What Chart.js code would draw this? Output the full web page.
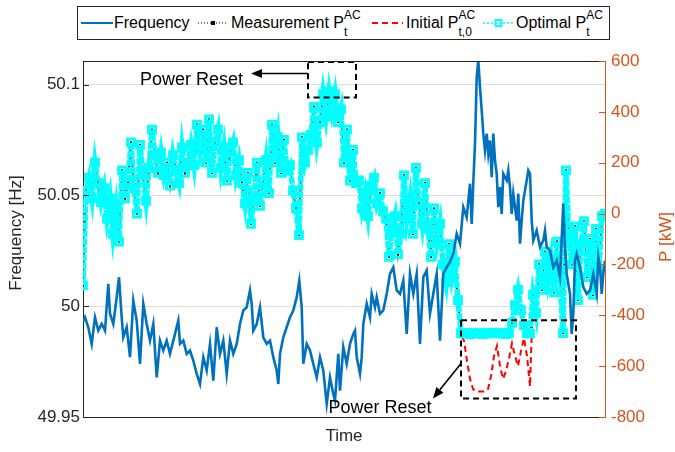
<!DOCTYPE html>
<html><head><meta charset="utf-8">
<script src="https://cdn.jsdelivr.net/npm/chart.js@4/dist/chart.umd.min.js"></script>
<style>
html,body{margin:0;padding:0;background:#fff;}
#wrap{position:relative;width:675px;height:452px;overflow:hidden;}
#c{position:absolute;left:0;top:0;}
#legend{position:absolute;left:77px;top:6px;width:533px;height:34px;border:1px solid #262626;box-sizing:border-box;background:#fff;font-family:"Liberation Sans",Arial,Helvetica,sans-serif;font-size:16px;color:#000;z-index:2;}
.smp{position:absolute;top:0;}
.lbl{position:absolute;top:7px;white-space:nowrap;line-height:18px;}
.ss{display:inline-block;position:relative;width:24px;height:18px;vertical-align:top;}
.ss .sup{position:absolute;left:0;top:-6px;font-size:12px;line-height:14px;}
.ss .sub{position:absolute;left:0;top:11px;font-size:12px;line-height:14px;}
</style></head>
<body>
<div id="wrap">
<canvas id="c" width="675" height="452"></canvas>
<div id="legend">
  <svg class="smp" style="left:3px" width="32" height="32"><line x1="0" y1="16" x2="32" y2="16" stroke="#0072BD" stroke-width="2"/></svg>
  <div class="lbl" style="left:36px">Frequency</div>
  <svg class="smp" style="left:120px" width="30" height="32"><line x1="0" y1="16" x2="30" y2="16" stroke="#000" stroke-width="1" stroke-dasharray="1,2"/><rect x="13" y="14" width="4" height="4" fill="#000"/></svg>
  <div class="lbl" style="left:153px">Measurement P<span class="ss"><span class="sup">AC</span><span class="sub">t</span></span></div>
  <svg class="smp" style="left:294px" width="31" height="32"><line x1="0" y1="16" x2="31" y2="16" stroke="#FF0000" stroke-width="2" stroke-dasharray="6,4"/></svg>
  <div class="lbl" style="left:328px">Initial P<span class="ss"><span class="sup">AC</span><span class="sub">t,0</span></span></div>
  <svg class="smp" style="left:405px" width="31" height="32"><line x1="0" y1="16" x2="31" y2="16" stroke="#00FFFF" stroke-width="1.5" stroke-dasharray="2,2"/><rect x="12.5" y="13" width="6" height="6" fill="none" stroke="#00FFFF" stroke-width="2"/></svg>
  <div class="lbl" style="left:438px">Optimal P<span class="ss"><span class="sup">AC</span><span class="sub">t</span></span></div>
</div>
</div>
<script>
// ---- data ----
const freqTime = [0,2,5.3,8.7,12,15.3,18.7,22,25.3,27,30.3,33.7,36,38.7,40.3,43.7,47,50.3,53.7,57,60.3,63.7,67,70.3,73.7,77,80.3,83.7,87,90.3,95.3,97,100.3,103.7,107,110.3,113.7,117,120.3,123.7,127,130.3,133.7,137,140.3,143.7,147,150.3,153.7,157,160.3,163.7,167,168.7,170.3,173.7,177,180.3,183.7,187,190.3,193.7,195.3,197,200.3,203.7,207,210.3,213.7,216.3,218.7,220.3,223.7,227,230.3,233.7,237,240.3,243.7,247,250.3,252,255.3,257,260.3,263.7,267,270.3,272,273.7,277,278.7,280.3,283.7,287,288.7,292,293.7,297,300.3,303.7,307,310.3,313.7,317,320.3,323.7,327,330.3,333.7,337,340.3,343.7,347,350.3,353.7,357,360.3,363.7,367,370.3,373.7,377,380.3,383.7,387,388.7,390.3,392,393.7,395.3,397,398.7,400.3,402,403.7,405.3,407,408.7,410.3,412,413.7,415.3,417,418.7,420.3,423.7,425.3,427,428.7,430.3,433.7,435.3,437,438.7,440.3,443.7,445.3,447,448.7,450.3,453.7,457,460.3,462,463.7,467,470.3,473.7,477,480.3,482,483.7,487,488.7,490.3,492,493.7,497,500.3,503.7,507,510.3,513.7,515.3,517,518.7,520.3,522];
const freqHz = [49.9931,49.9950,49.9905,49.9830,49.9950,49.9890,49.9920,49.9890,50.0101,49.9966,
49.9920,50.0041,50.0131,49.9950,49.9860,49.9905,49.9770,50.0026,49.9935,49.9740,
50.0011,49.9920,49.9845,49.9920,49.9679,49.9845,49.9800,49.9845,49.9785,49.9845,
49.9935,49.9830,49.9845,49.9785,49.9800,49.9755,49.9695,49.9649,49.9770,49.9710,
49.9830,49.9664,49.9905,49.9785,49.9845,49.9695,49.9845,49.9785,49.9830,49.9920,
49.9981,49.9995,50.0071,50.0011,49.9890,49.9920,49.9995,49.9860,49.9830,49.9845,
49.9770,49.9710,49.9649,49.9785,49.9860,49.9905,49.9950,49.9981,50.0041,50.0116,
49.9995,49.9740,49.9830,49.9800,49.9740,49.9679,49.9770,49.9710,49.9559,49.9679,
49.9604,49.9574,49.9785,49.9619,49.9815,49.9740,49.9830,49.9875,49.9890,49.9770,
49.9695,49.9770,49.9920,50.0011,49.9950,50.0056,49.9995,50.0041,49.9966,49.9981,
50.0056,50.0146,50.0176,50.0071,50.0056,50.0116,49.9875,50.0146,50.0056,50.0146,
49.9830,50.0131,50.0161,49.9966,50.0056,50.0146,49.9845,50.0146,50.0176,50.0200,
50.0237,50.0327,50.0282,50.0447,50.0402,50.0553,50.0372,50.0560,50.0734,50.1034,
50.1110,50.0989,50.0884,50.0779,50.0703,50.0779,50.0688,50.0748,50.0583,50.0779,
50.0658,50.0598,50.0447,50.0538,50.0417,50.0598,50.0568,50.0613,50.0538,50.0417,
50.0508,50.0387,50.0508,50.0282,50.0387,50.0477,50.0568,50.0613,50.0598,50.0387,
50.0297,50.0342,50.0267,50.0297,50.0342,50.0267,50.0252,50.0176,50.0206,50.0131,
50.0463,50.0267,50.0146,50.0056,49.9875,49.9966,50.0206,50.0237,50.0176,50.0086,
50.0056,50.0071,50.0146,50.0056,50.0221,50.0176,50.0056,50.0146,50.0206];

const powerStep = 3; // time units between power samples
const optimalKW = [-282,90,140,60,200,120,45,100,-20,60,
-80,20,-110,170,60,120,280,100,0,270,
150,50,180,330,230,160,240,150,200,110,
230,170,120,260,160,200,270,190,350,250,
330,200,370,160,280,330,180,260,130,240,
280,150,210,120,40,160,-40,70,200,30,
120,210,80,350,200,300,160,290,170,190,
90,20,-85,300,200,250,310,420,280,360,
470,380,480,400,470,360,410,200,330,130,
250,120,130,20,80,-10,110,140,40,80,
10,-20,-170,-60,-10,-160,-80,150,-20,60,
-80,180,40,-40,120,-60,-170,20,-110,-40,
-200,-270,-120,-250,-190,-340,-470,-472,-470,-474,
-470,-472,-470,-474,-470,-472,-470,-468,-470,-472,
-470,-474,-470,-430,-360,-300,-380,-440,-470,-472,
-320,-390,-200,-300,-150,-260,-180,-310,-110,-250,
-470,170,-100,-200,-50,-340,-120,-30,-250,-100,
-320,-60,-220,-10,0];
const measuredKW = [-282,90,140,60,200,120,45,100,-20,60,
-80,20,-110,170,60,120,280,100,0,270,
150,50,180,330,230,160,240,150,200,110,
230,170,120,260,160,200,270,190,350,250,
330,200,370,160,280,330,180,260,130,240,
280,150,210,120,40,160,-40,70,200,30,
120,210,80,350,200,300,160,290,170,190,
90,20,-85,300,200,250,310,420,280,360,
470,380,480,400,470,360,410,200,330,130,
250,120,130,20,80,-10,110,140,40,80,
10,-20,-170,-60,-10,-160,-80,150,-20,60,
-80,180,40,-40,120,-60,-170,20,-110,-40,
-200,-270,-120,-250,-190,-340,-470,-472,-470,-474,
-470,-472,-470,-474,-470,-472,-470,-468,-470,-472,
-470,-474,-470,-430,-360,-300,-380,-440,-470,-472,
-320,-390,-200,-300,-150,-260,-180,-310,-110,-250,
-470,170,-100,-200,-50,-340,-120,-30,-250,-100,
-320,-60,-220,-10,0];
const initialKW = [-282,90,140,60,200,120,45,100,-20,60,
-80,20,-110,170,60,120,280,100,0,270,
150,50,180,330,230,160,240,150,200,110,
230,170,120,260,160,200,270,190,350,250,
330,200,370,160,280,330,180,260,130,240,
280,150,210,120,40,160,-40,70,200,30,
120,210,80,350,200,300,160,290,170,190,
90,20,-85,300,200,250,310,420,280,360,
470,380,480,400,470,360,410,200,330,130,
250,120,130,20,80,-10,110,140,40,80,
10,-20,-170,-60,-10,-160,-80,150,-20,60,
-80,180,40,-40,120,-60,-170,20,-110,-40,
-200,-270,-120,-250,-190,-340,-480,-500,-580,-650,
-690,-700,-700,-700,-700,-690,-640,-560,-520,-600,
-650,-620,-570,-510,-560,-600,-540,-490,-560,-680,
-320,-390,-200,-300,-150,-260,-180,-310,-110,-250,
-470,170,-100,-200,-50,-340,-120,-30,-250,-100,
-320,-60,-220,-10,0];

const leftTicks = [49.95, 50, 50.05, 50.1];
const leftTickLabels = ['49.95', '50', '50.05', '50.1'];
const rightTicks = [-800, -600, -400, -200, 0, 200, 400, 600];
const rightTickLabels = ['-800', '-600', '-400', '-200', '0', '200', '400', '600'];

// annotation anchors in data units (time, kW)
const resetBoxes = [{t0: 225, t1: 273, pTop: 596, pBot: 456}, {t0: 378, t1: 493, pTop: -420, pBot: -727}];
const resetArrows = [{from: [225, 551], to: [168, 551]}, {from: [378, -590], to: [350, -727]}];
const resetLabels = [{t: 108.5, p: 504, text: 'Power Reset'}, {t: 297, p: -785, text: 'Power Reset'}];

// ---- chart ----
const FONT = "'Liberation Sans', Arial, Helvetica, sans-serif";
const ORANGE = '#D95319';
const powerTime = optimalKW.map((_, i) => i * powerStep);
const pts = (ts, vs) => vs.map((v, i) => ({x: ts[i], y: v}));

const framePlugin = {
  id: 'frame',
  afterDraw(chart) {
    const {ctx, chartArea: a, scales} = chart;
    ctx.save();
    ctx.lineWidth = 1;
    ctx.strokeStyle = '#262626';
    ctx.beginPath();
    ctx.moveTo(a.left, Math.round(a.top) + 0.5); ctx.lineTo(a.right, Math.round(a.top) + 0.5);
    leftTicks.forEach(v => { const y = Math.round(scales.y.getPixelForValue(v)) + 0.5; ctx.moveTo(a.left, y); ctx.lineTo(a.left + 6, y); });
    ctx.stroke();
    ctx.strokeStyle = ORANGE;
    ctx.beginPath();
    rightTicks.forEach(v => { const y = Math.round(scales.y1.getPixelForValue(v)) + 0.5; ctx.moveTo(a.right, y); ctx.lineTo(a.right - 6, y); });
    ctx.stroke();
    ctx.font = '17px ' + FONT;
    ctx.textAlign = 'center'; ctx.textBaseline = 'middle';
    // left axis title
    ctx.save();
    ctx.fillStyle = '#262626';
    ctx.translate(16.5, 233); ctx.rotate(-Math.PI / 2);
    ctx.fillText('Frequency [Hz]', 0, 0);
    ctx.restore();
    // right axis title, reading bottom-to-top
    ctx.fillStyle = ORANGE;
    ctx.translate(666, 237); ctx.rotate(-Math.PI / 2);
    ctx.fillText('P [kW]', 0, 0);
    ctx.restore();
  },
  afterDatasetsDraw(chart) {
    const {ctx, scales: {x, y1}} = chart;
    const X = v => x.getPixelForValue(v), Y = v => y1.getPixelForValue(v);
    ctx.save();
    ctx.strokeStyle = '#000'; ctx.lineWidth = 2; ctx.setLineDash([6, 4]);
    resetBoxes.forEach(b => {
      ctx.strokeRect(X(b.t0), Y(b.pTop), X(b.t1) - X(b.t0), Y(b.pBot) - Y(b.pTop));
    });
    ctx.setLineDash([]);
    ctx.fillStyle = '#000'; ctx.lineWidth = 1.6;
    resetArrows.forEach(ar => {
      const x0 = X(ar.from[0]), y0 = Y(ar.from[1]), x1 = X(ar.to[0]), y1p = Y(ar.to[1]);
      const ang = Math.atan2(y1p - y0, x1 - x0);
      const hl = 11, hw = 4.5;
      const bx = x1 - hl * Math.cos(ang), by = y1p - hl * Math.sin(ang);
      ctx.beginPath(); ctx.moveTo(x0, y0); ctx.lineTo(bx, by); ctx.stroke();
      ctx.beginPath();
      ctx.moveTo(x1, y1p);
      ctx.lineTo(bx + hw * Math.sin(ang), by - hw * Math.cos(ang));
      ctx.lineTo(bx - hw * Math.sin(ang), by + hw * Math.cos(ang));
      ctx.closePath(); ctx.fill();
    });
    ctx.font = '18px ' + FONT; ctx.textAlign = 'center'; ctx.textBaseline = 'alphabetic';
    resetLabels.forEach(l => ctx.fillText(l.text, X(l.t), Y(l.p)));
    ctx.restore();
  }
};

new Chart(document.getElementById('c'), {
  type: 'line',
  data: {
    datasets: [
      {label: 'Frequency', data: pts(freqTime, freqHz), yAxisID: 'y', borderColor: '#0072BD', borderWidth: 2.6, pointRadius: 0, order: 0},
      {label: 'Optimal', data: pts(powerTime, optimalKW), yAxisID: 'y1', borderColor: '#00FFFF', borderWidth: 5.5, borderDash: [7, 1],
        pointStyle: 'rect', pointRadius: 4.8, pointBorderWidth: 3, pointBorderColor: '#00FFFF', pointBackgroundColor: 'rgba(0,0,0,0)', order: 1},
      {label: 'Measurement', data: pts(powerTime, measuredKW), yAxisID: 'y1', borderColor: '#000', borderWidth: 1, borderDash: [1, 2],
        pointStyle: 'rect', pointRadius: 1.5, pointBorderWidth: 0, pointBackgroundColor: '#000', order: 2},
      {label: 'Initial', data: pts(powerTime, initialKW), yAxisID: 'y1', borderColor: '#FF0000', borderWidth: 2, borderDash: [6, 4], pointRadius: 0, order: 3}
    ]
  },
  options: {
    responsive: false, animation: false, devicePixelRatio: 1,
    layout: {padding: {top: 61, left: 0, right: 0, bottom: 0}},
    plugins: {legend: {display: false}, tooltip: {enabled: false}},
    scales: {
      x: {type: 'linear', min: 0, max: 522,
        ticks: {display: false}, grid: {display: false, drawTicks: false},
        border: {display: true, color: '#262626', width: 1},
        title: {display: true, text: 'Time', color: '#262626', font: {family: FONT, size: 17}, padding: {top: 0, bottom: 5}},
        afterFit: s => { s.height = 35; }},
      y: {position: 'left', min: 49.95, max: 50.1107,
        afterBuildTicks: s => { s.ticks = leftTicks.map(v => ({value: v})); },
        ticks: {color: '#262626', font: {family: FONT, size: 17}, padding: 3, callback: v => leftTickLabels[leftTicks.indexOf(v)]},
        grid: {color: '#dedede', lineWidth: 1, drawTicks: false},
        border: {display: true, color: '#262626', width: 1},
        title: {display: false, text: 'Frequency [Hz]'},
        afterFit: s => { s.width = 83; }},
      y1: {position: 'right', min: -800, max: 600,
        afterBuildTicks: s => { s.ticks = rightTicks.map(v => ({value: v})); },
        ticks: {color: ORANGE, font: {family: FONT, size: 17}, padding: 6, callback: v => rightTickLabels[rightTicks.indexOf(v)]},
        grid: {display: false, drawTicks: false},
        border: {display: true, color: ORANGE, width: 1},
        afterFit: s => { s.width = 70; }}
    }
  },
  plugins: [framePlugin]
});
</script>
</body></html>
